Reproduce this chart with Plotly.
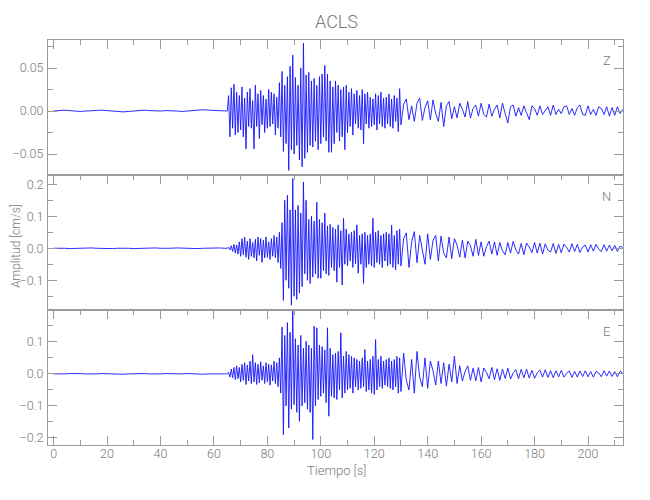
import numpy as np
import plotly.graph_objects as go

# ---------------- data (velocity, units of 0.001 cm/s) ----------------
t_pre = np.arange(0, 65, 2.0)        # quiet part before the P arrival
t_strong = np.arange(65, 130, 0.5)   # strong motion
t_coda = np.arange(130, 214, 1.0)    # coda
milli = 0.001

z_pre = [0, 0.5, 1, 0.5, 0, -0.5, 0, 0.5, 1, 1,
         0.5, 0, -0.5, -1, -0.5, 0, 0.5, 1, 0.5, 0,
         0, 0.5, 0.5, 0, -0.5, 0, 0.5, 1, 1.5, 1,
         0.5, 0, 0]
z_strong = [0, 18, -30, 27, -20, 31, -28, 22, -25, 18,
            -22, 28, -30, 15, -44, 22, -18, 26, -20, 12,
            -44, 30, -18, 20, -32, 24, -16, 18, -25, 14,
            -20, 25, -18, 22, -15, 20, -28, 16, -20, 33,
            -30, 46, -47, 30, -38, 40, -69, 52, -45, 65,
            -50, 39, -40, 30, -57, 50, -65, 79, -55, 42,
            -48, 45, -40, 35, -42, 38, -35, 30, -45, 40,
            -38, 43, -30, 53, -35, 43, -48, 35, -48, 28,
            -38, 35, -25, 30, -35, 25, -30, 28, -45, 30,
            -25, 22, -18, 26, -28, 20, -15, 24, -20, 18,
            -22, 25, -38, 20, -15, 22, -20, 16, -18, 14,
            -16, 20, -22, 18, -15, 22, -18, 15, -20, 16,
            -15, 20, -18, 14, -20, 18, -12, 15, -24, 26]
z_coda = [-16, 8, 14, -10, 6, -12, 9, 15, -11, 4,
          12, -10, 13, -3, -12, 10, -18, 6, 11, -9,
          5, -8, 9, 2, -7, 11, -8, 3, 7, -6,
          9, -4, -7, 8, -6, 2, 7, -8, 9, -3,
          -14, 5, 7, -6, 4, -5, 6, -2, -10, 6,
          3, -5, 6, -4, 1, 5, -5, 7, -4, 2,
          -3, 5, 6, -4, 3, -5, 4, 7, -4, -5,
          6, -4, 2, -5, 5, 3, -4, 5, -6, 4,
          -5, 5, -3, 2]

n_pre = [0, 1, 0, -1, 0, 1, 2, 1, 0, -1,
         -2, -1, 0, 1, 0, -1, 0, 1, 2, 1,
         0, -1, 0, 1, 0, -1, -2, -1, 0, 1,
         0, 1, 0]
n_strong = [0, 3, -5, 8, -10, 12, -15, 10, -18, 20,
            -25, 30, -20, 35, -28, 22, -35, 30, -25, 18,
            -30, 28, -40, 35, -22, 30, -44, 25, -30, 35,
            -28, 20, -35, 30, -25, 40, -30, 35, -45, 50,
            -63, 80, -163, 150, -100, 166, -125, 120, -178, 218,
            -150, 120, -160, 134, -140, 110, -120, 207, -80, 150,
            -100, 90, -110, 100, -90, 85, -80, 144, -94, 90,
            -94, 80, -70, 110, -80, 70, -85, 75, -60, 65,
            -70, 60, -106, 73, -60, 55, -115, 94, -50, 60,
            -55, 45, -40, 50, -60, 55, -48, 73, -78, 40,
            -50, 45, -110, 50, -60, 40, -50, 45, -55, 94,
            -60, 50, -45, 55, -50, 40, -60, 45, -40, 50,
            -55, 45, -50, 72, -60, 40, -67, 55, -50, 60]
n_coda = [-55, 30, 48, -60, 20, 52, -45, 40, -10, -50,
          45, -35, 25, 40, -40, 38, -15, -30, 35, -32,
          30, 10, -28, 25, -30, 22, 8, -25, 28, -22,
          20, -25, 5, 22, -18, 20, -22, 18, -8, -20,
          18, -15, 22, -5, -18, 15, -20, 16, 4, -14,
          18, -15, 16, -18, 14, -6, -12, 15, -16, 12,
          -14, 13, 3, -12, 14, -10, 12, -13, 4, 10,
          -12, 11, -9, 12, -3, -10, 11, -9, 10, -8,
          9, -10, 6, 3]

e_pre = [0, -1, 0, 1, 2, 1, 0, -1, 0, 1,
         0, -1, -2, -1, 0, 1, 2, 1, 0, -1,
         0, 1, 0, -1, 0, 1, 0, -1, -1, 0,
         1, 0, 0]
e_strong = [0, 5, -10, 15, -12, 20, -18, 25, -15, 20,
            -25, 30, -20, 35, -33, 28, -22, 40, -30, 60,
            -25, 35, -33, 30, -28, 38, -20, 25, -30, 35,
            -25, 30, -35, 28, -22, 40, -30, 35, -40, 50,
            -60, 146, -190, 120, -100, 160, -169, 130, -110, 196,
            -96, 110, -120, 90, -148, 120, -100, 80, -90, 102,
            -110, 90, -120, 80, -205, 149, -100, 144, -80, 90,
            -70, 85, -60, 75, -90, 144, -132, 80, -70, 60,
            -75, 65, -80, 70, -50, 128, -75, 55, -60, 70,
            -50, 60, -45, 55, -60, 50, -40, 45, -50, 40,
            -45, 50, -40, 76, -55, 40, -50, 45, -60, 55,
            -64, 107, -50, 45, -40, 55, -45, 40, -35, 45,
            -40, 50, -45, 40, -50, 45, -40, 55, -60, 50]
e_coda = [-55, 65, -20, -50, 45, -60, 70, -10, -40, 50,
          -45, 40, 10, -35, 40, -30, 35, -38, 30, -25,
          55, -30, 25, -22, 8, 25, -20, 18, -22, 20,
          -25, 18, 5, -15, 20, -18, 16, -20, 15, -14,
          18, -16, 3, 13, -15, 14, -12, 15, -13, 11,
          -14, 4, 12, -10, 13, -11, 10, -12, 10, -9,
          11, -10, 2, 9, -11, 8, -10, 9, -8, 10,
          -9, 7, -10, 8, 3, -9, 10, -7, 9, -8,
          7, -9, 8, 2]

components = ["Z", "N", "E"]
station = "ACLS"
x_ticks = [0, 20, 40, 60, 80, 100, 120, 140, 160, 180, 200]

# ---------------- assemble ----------------
t_all = np.concatenate([t_pre, t_strong, t_coda])
traces = {
    "Z": (z_pre, z_strong, z_coda),
    "N": (n_pre, n_strong, n_coda),
    "E": (e_pre, e_strong, e_coda),
}
series = {}
for k, (a, b, c) in traces.items():
    assert len(a) == len(t_pre) and len(b) == len(t_strong) and len(c) == len(t_coda), k
    series[k] = np.array(a + b + c, dtype=float) * milli

FONT = "Roboto, DejaVu Sans, sans-serif"
W = 300
GRAY = "#7a7a7a"
AXC = "#9a9a9a"

OFF = 8  # page body margin
L, R, T, B = 48 - OFF, 27 + OFF, 40 - OFF, 55 + OFF
PW, PH = 650 - L - R, 500 - T - B

def px_x(px):
    return (px - OFF - L) / PW

def px_y(py):
    return 1 - (py - OFF - T) / PH

fig = go.Figure()
for i, k in enumerate(components):
    suffix = "" if i == 0 else str(i + 1)
    fig.add_trace(go.Scatter(x=t_all, y=series[k], mode="lines",
                             line=dict(color="#1414ff", width=0.9),
                             xaxis="x" + suffix, yaxis="y" + suffix,
                             showlegend=False, hoverinfo="skip"))

domains = [[2 / 3, 1.0], [1 / 3, 2 / 3], [0.0, 1 / 3]]
yranges = [[-0.0744, 0.0826], [-0.193, 0.229], [-0.222, 0.1995]]
ydticks = [0.05, 0.1, 0.1]
yformats = [".2f", ".1f", ".1f"]

xr = [-2.1, 213.1]
tickfont = dict(family=FONT, size=12.5, color=GRAY, weight=W)
layout = dict(
    width=650, height=500,
    margin=dict(l=L, r=R, t=T, b=B),
    paper_bgcolor="white", plot_bgcolor="white",
    font=dict(family=FONT, color=GRAY, size=13, weight=W),
)
for i in range(3):
    suffix = "" if i == 0 else str(i + 1)
    last = i == 2
    xa = dict(range=xr, anchor="y" + suffix, domain=[0, 1], automargin=False,
              showline=True, linecolor=AXC, linewidth=1,
              ticks="inside", ticklen=9, tickwidth=1, tickcolor=AXC,
              tickvals=x_ticks, showgrid=False, zeroline=False,
              minor=dict(dtick=10, tick0=0, ticks="inside", ticklen=5,
                         tickcolor=AXC, tickwidth=1, showgrid=False),
              tickfont=tickfont)
    if last:
        xa.update(mirror="ticks", showticklabels=True, ticklabelstandoff=-3)
    else:
        xa.update(side="top", mirror=True, showticklabels=False, matches="x3")
    layout["xaxis" + suffix] = xa
    layout["yaxis" + suffix] = dict(
        range=yranges[i], domain=domains[i], anchor="x" + suffix, automargin=False,
        showline=True, linecolor=AXC, linewidth=1, mirror="ticks",
        ticks="inside", ticklen=9, tickwidth=1, tickcolor=AXC,
        dtick=ydticks[i], tick0=0, tickformat=yformats[i],
        minor=dict(dtick=ydticks[i] / 2, tick0=0, ticks="inside", ticklen=5,
                   tickcolor=AXC, tickwidth=1, showgrid=False),
        showgrid=False, zeroline=False, ticklabelstandoff=1,
        tickfont=tickfont)

fig.update_layout(**layout)

# title
fig.add_annotation(text=station, xref="paper", yref="paper",
                   x=px_x(336), y=px_y(22), showarrow=False,
                   xanchor="center", yanchor="middle",
                   font=dict(family=FONT, size=18, color=GRAY, weight=W))

# component labels
for k, yy in zip(components, [61, 196, 331]):
    fig.add_annotation(text=k, xref="paper", yref="paper",
                       x=px_x(606.5), y=px_y(yy),
                       showarrow=False, xanchor="center", yanchor="middle",
                       font=dict(family=FONT, size=13, color=GRAY, weight=W))

fig.add_annotation(text="Amplitud [cm/s]", xref="paper", yref="paper",
                   x=px_x(OFF), y=px_y(246), textangle=-90, showarrow=False,
                   xanchor="left", yanchor="middle", borderpad=0,
                   font=dict(family=FONT, size=12, color=GRAY, weight=W))

fig.add_annotation(text="Tiempo [s]", xref="paper", yref="paper",
                   x=px_x(336), y=px_y(470), showarrow=False,
                   xanchor="center", yanchor="middle",
                   font=dict(family=FONT, size=13, color=GRAY, weight=W))

fig.write_html("out.html")
